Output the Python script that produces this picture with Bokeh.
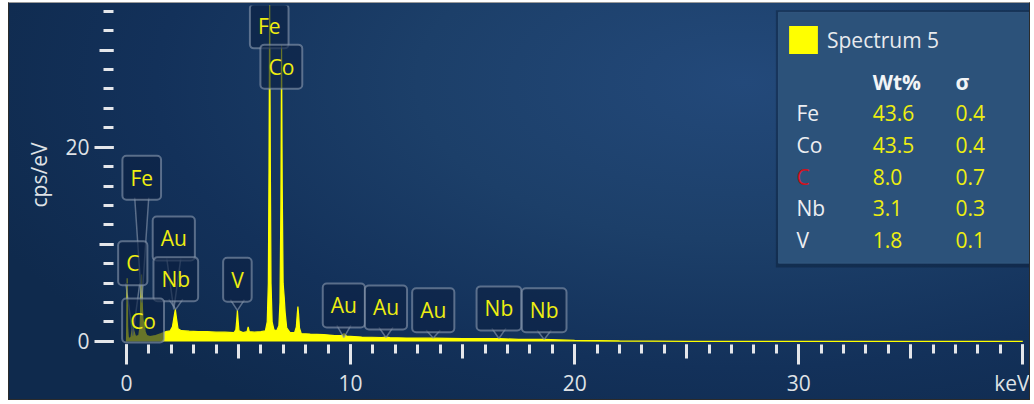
from bokeh.plotting import figure
from bokeh.models import (Range1d, FixedTicker, Label, BoxAnnotation, Legend,
                          LegendItem, ColumnDataSource, LinearAxis)
from bokeh.core.properties import value
from bokeh.embed import file_html
from bokeh.resources import INLINE

# ---------------------------------------------------------------- data
# EDS spectrum (energy in keV, intensity in cps/eV)
energy_kev = [0.00, 0.01, 0.03, 0.05, 0.08, 0.20, 0.25, 0.28, 0.31, 0.40,
              0.55, 0.61, 0.64, 0.67, 0.70, 0.73, 0.76, 0.79, 0.83, 0.90,
              1.05, 1.30, 1.55, 1.75, 1.95, 2.05, 2.12, 2.18, 2.23, 2.30,
              2.45, 2.80, 3.20, 3.60, 4.00, 4.40, 4.80, 4.88, 4.92, 4.95,
              4.98, 5.02, 5.20, 5.38, 5.43, 5.48, 5.70, 6.00, 6.20, 6.28,
              6.33, 6.36, 6.39, 6.42, 6.45, 6.50, 6.58, 6.70, 6.80, 6.85,
              6.89, 6.92, 6.95, 6.99, 7.04, 7.08, 7.15, 7.30, 7.50, 7.58,
              7.62, 7.65, 7.68, 7.72, 7.80, 8.20, 8.80, 9.30, 9.60, 9.71,
              9.82, 10.50, 11.40, 11.58, 11.75, 12.50, 13.70, 15.00, 16.60, 17.50,
              18.60, 20.00, 22.00, 25.00, 40.00]
counts_cps = [0.0, 1.5, 6.5, 1.5, 0.3, 0.4, 1.2, 2.0, 1.2, 0.5,
              0.6, 1.6, 4.2, 6.9, 4.0, 2.4, 1.9, 2.0, 1.0, 0.6,
              0.5, 0.6, 0.8, 1.0, 1.1, 1.5, 2.5, 3.3, 2.4, 1.3,
              1.1, 1.05, 1.0, 1.0, 0.95, 0.95, 0.9, 1.2, 2.2, 3.2,
              2.2, 1.1, 0.9, 1.0, 1.5, 1.0, 0.95, 1.0, 1.1, 2.0,
              6.0, 18.0, 35.0, 18.0, 6.0, 2.0, 1.2, 1.1, 1.6, 4.0,
              14.0, 30.5, 16.0, 6.0, 4.5, 3.0, 1.4, 0.9, 0.9, 1.5,
              2.8, 3.6, 2.8, 1.4, 0.8, 0.75, 0.7, 0.6, 0.6, 0.8,
              0.55, 0.45, 0.4, 0.45, 0.38, 0.35, 0.33, 0.28, 0.3, 0.2,
              0.2, 0.1, 0.05, 0.0, 0.0]

# peak identification callouts
callout_element = ["Fe", "Co", "Fe", "Au", "C", "Nb", "Co", "V",
                   "Au", "Au", "Au", "Nb", "Nb"]
callout_kev = [6.37, 6.91, 0.68, 2.11, 0.28, 2.20, 0.74, 4.95,
               9.70, 11.58, 13.69, 16.62, 18.64]
callout_peak_cps = [35.0, 30.5, 4.0, 3.3, 0.6, 3.3, 0.0, 3.2,
                    0.4, 0.4, 0.35, 0.3, 0.2]

# quantification result
spectrum_name = "Spectrum 5"
quant_element = ["Fe", "Co", "C", "Nb", "V"]
quant_wt = ["43.6", "43.5", "8.0", "3.1", "1.8"]
quant_sigma = ["0.4", "0.4", "0.7", "0.3", "0.1"]

# axis ticks: long (labelled), medium and short marks
x_long = [0, 10, 20, 30, 40]
x_medium = [0, 5, 10, 15, 20, 25, 30, 35, 40]
x_short = list(range(0, 41))
x_labelled = [0, 10, 20, 30]
x_unit = "keV"
y_long = [0, 20]
y_medium = [0, 10, 20, 30]
y_short = list(range(0, 35, 2))

# ---------------------------------------------------------------- layout
X0, X1 = -0.58, 40.3
Y0, Y1 = -0.32, 34.6
W, H = 1022, 398
BL, BR, BT, BB = 104, 2, 2, 57
KX = (W - BL - BR) / (X1 - X0)     # px per keV
KY = (H - BT - BB) / (Y1 - Y0)     # px per cps/eV

# the unit label is centred a little left of the last tick so it ends at the panel edge
UNIT_POS = x_long[-1] - 10 / KX

# vertical centre of each callout box (cps/eV)
callout_level = [32.45, 28.3, 16.85, 10.6, 8.05, 6.4, 2.15, 6.35,
                 3.7, 3.5, 3.2, 3.4, 3.2]

FONT = "Open Sans"
FS = "21px"
YELLOW = "#ffff00"
TEXT_YELLOW = "#eeee10"
TICK = "#e4e6ea"
LABEL = "#dfe2e6"
BOX_FILL = "#0c2142"
BOX_LINE = "#8c9bb0"
MED, SHORT, LONG_OUT = 14, 9, 6

p = figure(width=W, height=H,
           x_range=Range1d(X0, X1), y_range=Range1d(Y0, Y1),
           output_backend="svg", toolbar_location=None,
           min_border_left=BL, min_border_right=BR,
           min_border_top=BT, min_border_bottom=BB,
           border_fill_color=None, background_fill_color=None,
           outline_line_color=None,
           margin=(2, 3, 2, 8),
           styles={
               "background": "radial-gradient(ellipse 80% 100% at 72% 20%, "
                             "#23497a 0%, #1c3f69 40%, #13315a 72%, #0f2a4d 100%)",
               "border": "1px solid #2b2b2b",
               "border-top": "1px solid #9a9a9a",
           })
p.grid.visible = False


def tick_only_axis(axis, medium, short, short_len):
    """Inner axis: medium and short tick marks, no labels."""
    axis.ticker = FixedTicker(ticks=medium, minor_ticks=short)
    axis.major_label_overrides = {t: "" for t in medium}
    axis.major_label_text_font_size = "0px"
    axis.major_label_standoff = 0
    axis.axis_line_color = None
    axis.major_tick_line_color = TICK
    axis.major_tick_line_width = 3
    axis.major_tick_in = 0
    axis.major_tick_out = MED
    axis.minor_tick_line_color = TICK
    axis.minor_tick_line_width = 3
    axis.minor_tick_in = 0
    axis.minor_tick_out = short_len


def label_axis(ticks, long_ticks, overrides, long_out):
    """Outer axis: the labels, plus the long tick marks reaching back to the frame."""
    return LinearAxis(ticker=FixedTicker(ticks=ticks, minor_ticks=long_ticks),
                      major_label_overrides=overrides,
                      axis_line_color=None, major_tick_line_color=None,
                      major_tick_in=0, major_tick_out=long_out,
                      minor_tick_line_color=TICK, minor_tick_line_width=3,
                      minor_tick_in=MED, minor_tick_out=long_out,
                      major_label_text_font=FONT, major_label_text_font_size=FS,
                      major_label_text_color=LABEL)


# ---------------------------------------------------------------- axes
tick_only_axis(p.xaxis[0], x_medium, x_short, SHORT)
xl = label_axis(x_labelled + [UNIT_POS], x_long, {UNIT_POS: x_unit}, LONG_OUT)
xl.major_label_standoff = 4
p.add_layout(xl, "below")

tick_only_axis(p.yaxis[0], y_medium, y_short, 10)
yl = label_axis(y_long, y_long, {}, 5)
yl.major_label_standoff = 5
yl.axis_label = "cps/eV"
yl.axis_label_text_font = FONT
yl.axis_label_text_font_size = FS
yl.axis_label_text_font_style = "normal"
yl.axis_label_text_color = LABEL
yl.axis_label_standoff = 9
p.add_layout(yl, "left")

# ---------------------------------------------------------------- spectrum
spec = ColumnDataSource(dict(e=energy_kev, c=counts_cps))
area = p.varea(x="e", y1=0, y2="c", source=spec, fill_color=YELLOW, fill_alpha=1.0)
p.line(x="e", y="c", source=spec, line_color=YELLOW, line_width=1.2)

# ---------------------------------------------------------------- callouts
HALF_BOX = 20 / KY          # half height of a callout box
HALF_PTR = 7 / KX           # half width of the pointer at the box edge
ptr_xs, ptr_ys = [], []
for e, lvl, tgt in zip(callout_kev, callout_level, callout_peak_cps):
    bottom = lvl - HALF_BOX
    if tgt < bottom - 0.4:
        ptr_xs.append([e - HALF_PTR, e, e + HALF_PTR])
        ptr_ys.append([bottom, tgt, bottom])
p.patches(xs=ptr_xs, ys=ptr_ys, fill_color=BOX_FILL, fill_alpha=0.55, line_color=None)
p.multi_line(xs=ptr_xs, ys=ptr_ys, line_color=BOX_LINE, line_alpha=0.6, line_width=1.5)

for el, e, lvl in zip(callout_element, callout_kev, callout_level):
    p.add_layout(Label(x=e, y=lvl, text=el, text_align="center",
                       text_baseline="middle", text_font=FONT, text_font_size=FS,
                       text_color=TEXT_YELLOW,
                       background_fill_color=BOX_FILL, background_fill_alpha=0.62,
                       border_line_color=BOX_LINE, border_line_alpha=0.6,
                       border_line_width=2, border_radius=4, padding=8))

# ---------------------------------------------------------------- results panel
PANEL_L, PANEL_R, PANEL_T, PANEL_B = 29.1, 40.3, 33.9, 8.05
p.add_layout(BoxAnnotation(left=PANEL_L - 0.12, right=PANEL_R, top=PANEL_T + 0.2,
                           bottom=PANEL_B - 0.45, fill_color="#061428",
                           fill_alpha=0.35, line_color=None, level="underlay"))
p.add_layout(BoxAnnotation(left=PANEL_L, right=PANEL_R, top=PANEL_T, bottom=PANEL_B,
                           fill_color="#2c527a", fill_alpha=1.0,
                           line_color="#3a6088", line_alpha=0.6, line_width=1,
                           level="underlay"))

legend = Legend(items=[LegendItem(label=spectrum_name, renderers=[area])],
                location=(672, 287), orientation="vertical",
                glyph_width=36, glyph_height=35, label_height=35,
                label_standoff=6, padding=0, margin=0, spacing=0,
                label_text_font=FONT, label_text_font_size=FS,
                label_text_color="#e8eaee", background_fill_alpha=0,
                border_line_color=None)
p.add_layout(legend)

COL_NAME, COL_WT, COL_SIG = 29.9, 33.3, 37.0
HEAD_Y, ROW0_Y, ROW_STEP = 26.7, 23.5, 3.27

p.text(x=[COL_WT, COL_SIG], y=[HEAD_Y, HEAD_Y], text=["Wt%", "σ"],
       text_font=value(FONT), text_font_size=FS, text_font_style="bold",
       text_color="#f2f4f6", text_baseline="middle", text_align="left")

rows = ColumnDataSource(dict(
    y=[ROW0_Y - i * ROW_STEP for i in range(len(quant_element))],
    name=quant_element, wt=quant_wt, sig=quant_sigma,
    name_color=["#d0121c" if el == "C" else "#eceef2" for el in quant_element],
))
p.text(x=COL_NAME, y="y", text="name", source=rows, text_color="name_color",
       text_font=value(FONT), text_font_size=FS, text_baseline="middle", text_align="left")
p.text(x=COL_WT, y="y", text="wt", source=rows, text_color=TEXT_YELLOW,
       text_font=value(FONT), text_font_size=FS, text_baseline="middle", text_align="left")
p.text(x=COL_SIG, y="y", text="sig", source=rows, text_color=TEXT_YELLOW,
       text_font=value(FONT), text_font_size=FS, text_baseline="middle", text_align="left")

open("out.html", "w").write(file_html(p, INLINE))
